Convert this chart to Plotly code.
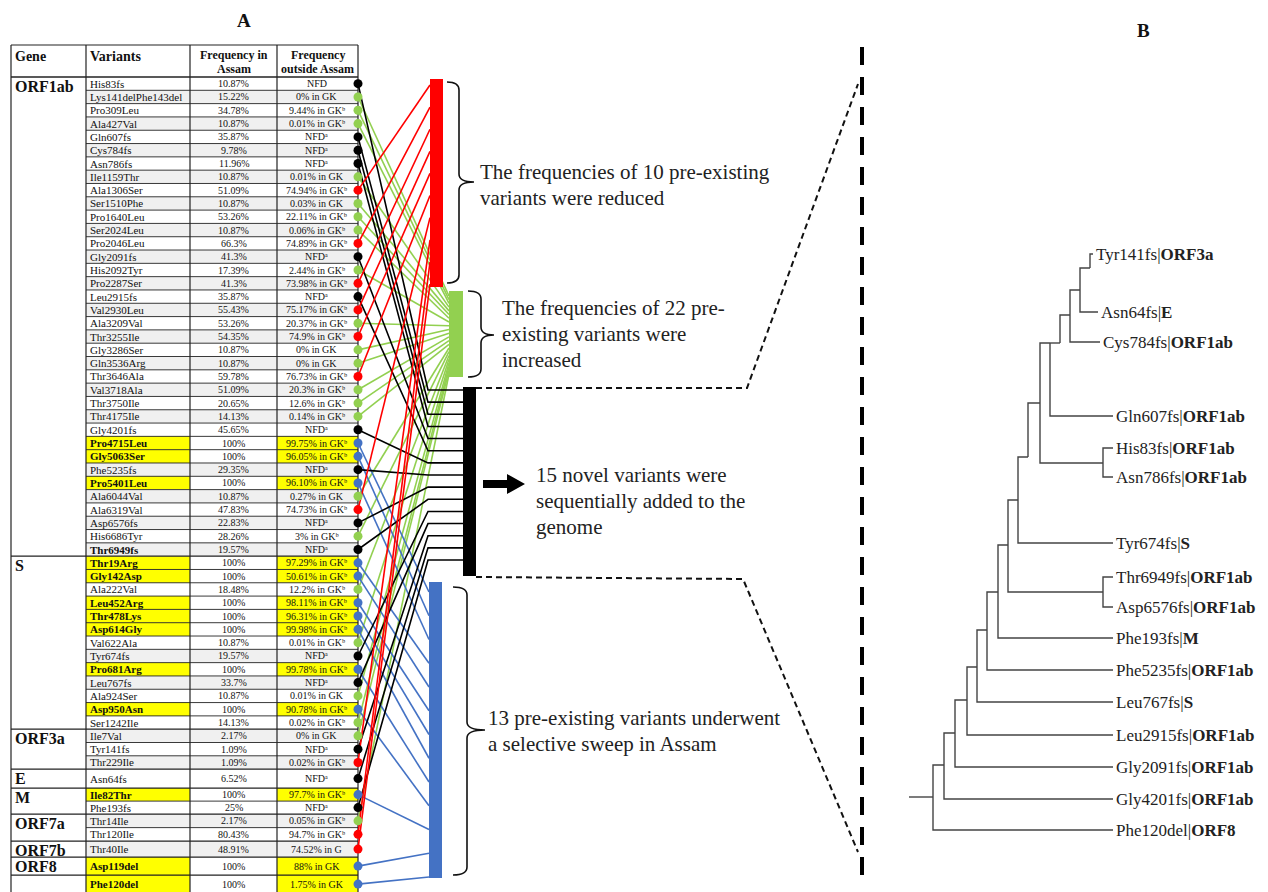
import plotly.graph_objects as go

FONT = "Liberation Serif"

# ---------------- DATA ----------------
genes = ["ORF1ab", "S", "ORF3a", "E", "M", "ORF7a", "ORF7b", "ORF8"]
gene_sizes = [36, 13, 3, 1, 2, 2, 1, 2]

variants = [
    "His83fs", "Lys141delPhe143del", "Pro309Leu", "Ala427Val", "Gln607fs", "Cys784fs", "Asn786fs",
    "Ile1159Thr", "Ala1306Ser", "Ser1510Phe", "Pro1640Leu", "Ser2024Leu", "Pro2046Leu", "Gly2091fs",
    "His2092Tyr", "Pro2287Ser", "Leu2915fs", "Val2930Leu", "Ala3209Val", "Thr3255Ile", "Gly3286Ser",
    "Gln3536Arg", "Thr3646Ala", "Val3718Ala", "Thr3750Ile", "Thr4175Ile", "Gly4201fs", "Pro4715Leu",
    "Gly5063Ser", "Phe5235fs", "Pro5401Leu", "Ala6044Val", "Ala6319Val", "Asp6576fs", "His6686Tyr",
    "Thr6949fs",
    "Thr19Arg", "Gly142Asp", "Ala222Val", "Leu452Arg", "Thr478Lys", "Asp614Gly", "Val622Ala",
    "Tyr674fs", "Pro681Arg", "Leu767fs", "Ala924Ser", "Asp950Asn", "Ser1242Ile",
    "Ile7Val", "Tyr141fs", "Thr229Ile",
    "Asn64fs",
    "Ile82Thr", "Phe193fs",
    "Thr14Ile", "Thr120Ile",
    "Thr40Ile",
    "Asp119del", "Phe120del",
]

freq_assam = [
    "10.87%", "15.22%", "34.78%", "10.87%", "35.87%", "9.78%", "11.96%", "10.87%", "51.09%", "10.87%",
    "53.26%", "10.87%", "66.3%", "41.3%", "17.39%", "41.3%", "35.87%", "55.43%", "53.26%", "54.35%",
    "10.87%", "10.87%", "59.78%", "51.09%", "20.65%", "14.13%", "45.65%", "100%", "100%", "29.35%",
    "100%", "10.87%", "47.83%", "22.83%", "28.26%", "19.57%",
    "100%", "100%", "18.48%", "100%", "100%", "100%", "10.87%", "19.57%", "100%", "33.7%", "10.87%",
    "100%", "14.13%",
    "2.17%", "1.09%", "1.09%",
    "6.52%",
    "100%", "25%",
    "2.17%", "80.43%",
    "48.91%",
    "100%", "100%",
]

freq_outside = [
    "NFD", "0% in GK", "9.44% in GK", "0.01% in GK", "NFD", "NFD", "NFD", "0.01% in GK", "74.94% in GK",
    "0.03% in GK", "22.11% in GK", "0.06% in GK", "74.89% in GK", "NFD", "2.44% in GK", "73.98% in GK",
    "NFD", "75.17% in GK", "20.37% in GK", "74.9% in GK", "0% in GK", "0% in GK", "76.73% in GK",
    "20.3% in GK", "12.6% in GK", "0.14% in GK", "NFD", "99.75% in GK", "96.05% in GK", "NFD",
    "96.10% in GK", "0.27% in GK", "74.73% in GK", "NFD", "3% in GK", "NFD",
    "97.29% in GK", "50.61% in GK", "12.2% in GK", "98.11% in GK", "96.31% in GK", "99.98% in GK",
    "0.01% in GK", "NFD", "99.78% in GK", "NFD", "0.01% in GK", "90.78% in GK", "0.02% in GK",
    "0% in GK", "NFD", "0.02% in GK",
    "NFD",
    "97.7% in GK", "NFD",
    "0.05% in GK", "94.7% in GK",
    "74.52% in G",
    "88% in GK", "1.75% in GK",
]

# superscript note marks (a / b) after the outside-Assam frequency
outside_mark = [
    "", "", "ᵇ", "ᵇ", "ᵃ", "ᵃ", "ᵃ", "", "ᵇ", "", "ᵇ", "ᵇ", "ᵇ", "ᵃ", "ᵇ", "ᵇ", "ᵃ", "ᵇ", "ᵇ", "ᵇ",
    "", "", "ᵇ", "ᵇ", "ᵇ", "ᵇ", "ᵃ", "ᵇ", "ᵇ", "ᵃ", "ᵇ", "", "ᵇ", "ᵃ", "ᵇ", "ᵃ",
    "ᵇ", "ᵇ", "ᵇ", "ᵇ", "ᵇ", "ᵇ", "ᵇ", "ᵃ", "ᵇ", "ᵃ", "", "ᵇ", "ᵇ",
    "", "ᵃ", "ᵇ",
    "ᵃ",
    "ᵇ", "ᵃ",
    "ᵇ", "ᵇ",
    "",
    "", "",
]

# K = novel frameshift (black), G = increased (green), R = reduced (red), B = selective sweep (blue)
category = list(
    "KGGGKKKGRGGGRKGRKRGRGGRGGGKBBKBGRKGK"
    "BBGBBBGKBKGBG"
    "GKR"
    "K"
    "BK"
    "GR"
    "R"
    "BB"
)
extra_bold = {"Thr6949fs"}

cat_color = {"K": "#000000", "G": "#92D050", "R": "#FF0000", "B": "#4472C4"}

callouts = [
    ["The frequencies of 10 pre-existing", "variants were reduced"],
    ["The frequencies of 22 pre-", "existing variants were", "increased"],
    ["15 novel variants were", "sequentially added to the", "genome"],
    ["13 pre-existing variants underwent", "a selective sweep in Assam"],
]

# dendrogram of the 15 novel variants (+ Phe120del)
leaf_names = ["Tyr141fs", "Asn64fs", "Cys784fs", "Gln607fs", "His83fs", "Asn786fs", "Tyr674fs",
              "Thr6949fs", "Asp6576fs", "Phe193fs", "Phe5235fs", "Leu767fs", "Leu2915fs",
              "Gly2091fs", "Gly4201fs", "Phe120del"]
leaf_genes = ["ORF3a", "E", "ORF1ab", "ORF1ab", "ORF1ab", "ORF1ab", "S", "ORF1ab", "ORF1ab", "M",
              "ORF1ab", "S", "ORF1ab", "ORF1ab", "ORF1ab", "ORF8"]
leaf_y = [254, 312, 342, 416, 448, 477, 543, 577, 607, 638, 670, 702, 735, 767, 799, 830]
leaf_x = [1093, 1098, 1100, 1113, 1113, 1113, 1113, 1113, 1113, 1113, 1113, 1113, 1113, 1113, 1113, 1113]

node_pos = {
    "stub": (909, 797), "root": (933, 797), "P10": (944, 765), "P9": (955, 733), "P8": (967, 700),
    "P7": (977, 667), "P6": (987, 630), "P5": (998, 592), "P4": (1008, 545), "Nthr": (1103, 592),
    "P3": (1018, 500), "P2": (1028, 457), "P": (1040, 403), "Nhis": (1103, 463), "Nd": (1050, 343),
    "Nc": (1060, 343), "Nb": (1070, 315), "Na": (1080, 290), "Nt": (1090, 268),
}
node_children = {
    "stub": ["root"], "root": ["P10", "Phe120del"], "P10": ["P9", "Gly4201fs"],
    "P9": ["P8", "Gly2091fs"], "P8": ["P7", "Leu2915fs"], "P7": ["P6", "Leu767fs"],
    "P6": ["P5", "Phe5235fs"], "P5": ["P4", "Phe193fs"], "P4": ["P3", "Nthr"],
    "Nthr": ["Thr6949fs", "Asp6576fs"], "P3": ["P2", "Tyr674fs"], "P2": ["P"],
    "P": ["Nd", "Nhis"], "Nhis": ["His83fs", "Asn786fs"], "Nd": ["Nc", "Gln607fs"],
    "Nc": ["Nb"], "Nb": ["Na", "Cys784fs"], "Na": ["Nt", "Asn64fs"], "Nt": ["Tyr141fs"],
}

# ---------------- LAYOUT CONSTANTS ----------------
W, H = 1268, 892
OFF = 8  # default page margin of the browser body
COL_X = [11, 86, 190, 277, 358]
HEAD_TOP, HEAD_BOT = 45, 77
GROUP_ROW_H = [13.31, 13.31, 13.31, 19, 13, 13.5, 16, 18]
DOT_X = 358

bars = {  # x0, x1, y0, y1
    "R": (430, 443, 79, 287),
    "G": (449, 463, 291, 377),
    "K": (463, 476, 387, 576),
    "B": (429, 442, 582, 878),
}
line_end = {  # x of line end, y start, y end for spreading
    "R": (430, 85, 284),
    "G": (449, 296, 374),
    "K": (463, 390, 560),
    "B": (429, 592, 877),
}

shapes = []
annotations = []

# rows geometry
row_top, row_bot, row_group = [], [], []
y = HEAD_BOT
for gi, n in enumerate(gene_sizes):
    for _ in range(n):
        row_top.append(y)
        y += GROUP_ROW_H[gi]
        row_bot.append(y)
        row_group.append(gi)
row_mid = [(a + b) / 2 for a, b in zip(row_top, row_bot)]
table_bot = row_bot[-1]

# cell backgrounds
for i in range(len(variants)):
    hl = category[i] == "B"
    alt = "#F0F0F0" if i % 2 == 1 else "#FFFFFF"
    fills = ["#FFFF00" if hl else alt, "#FFFFFF" if hl else alt, "#FFFF00" if hl else alt]
    for c in range(3):
        if fills[c] != "#FFFFFF":
            shapes.append(dict(type="rect", xref="x", yref="y", x0=COL_X[c + 1], x1=COL_X[c + 2],
                               y0=row_top[i], y1=row_bot[i], fillcolor=fills[c], line=dict(width=0),
                               layer="below"))

# grid lines
LC = "#222222"
shapes.append(dict(type="line", x0=COL_X[0], x1=COL_X[-1], y0=HEAD_TOP, y1=HEAD_TOP,
                   line=dict(color=LC, width=1.2), layer="below"))
shapes.append(dict(type="line", x0=COL_X[0], x1=COL_X[-1], y0=HEAD_BOT, y1=HEAD_BOT,
                   line=dict(color=LC, width=1.6), layer="below"))
group_end_rows = []
acc = 0
for n in gene_sizes:
    acc += n
    group_end_rows.append(acc - 1)
for i in range(len(variants)):
    full = i in group_end_rows or genes[row_group[i]] == "ORF8"
    shapes.append(dict(type="line", x0=COL_X[0] if full else COL_X[1], x1=COL_X[-1],
                       y0=row_bot[i], y1=row_bot[i],
                       line=dict(color=LC, width=1.2 if full else 0.9), layer="below"))
for cx in COL_X:
    shapes.append(dict(type="line", x0=cx, x1=cx, y0=HEAD_TOP, y1=table_bot,
                       line=dict(color=LC, width=1.2), layer="below"))

# header text
hdr = dict(xref="x", yref="y", showarrow=False)
annotations.append(dict(hdr, x=13, y=56, text="<b>Gene</b>", xanchor="left", yanchor="middle",
                        font=dict(family=FONT, size=14, color="#111")))
annotations.append(dict(hdr, x=88, y=56, text="<b>Variants</b>", xanchor="left", yanchor="middle",
                        font=dict(family=FONT, size=14, color="#111")))
for cx, lines in [((COL_X[2] + COL_X[3]) / 2, ["Frequency in", "Assam"]),
                  ((COL_X[3] + COL_X[4]) / 2, ["Frequency", "outside Assam"])]:
    for k, t in enumerate(lines):
        annotations.append(dict(hdr, x=cx, y=55 + 14 * k, text="<b>" + t + "</b>", xanchor="center",
                                yanchor="middle", font=dict(family=FONT, size=12, color="#111")))

# gene labels
acc = 0
for g, n in zip(genes, gene_sizes):
    annotations.append(dict(hdr, x=13, y=row_top[acc] + 9, text="<b>" + g + "</b>", xanchor="left",
                            yanchor="middle", font=dict(family=FONT, size=16, color="#111")))
    acc += n

# row text
for i, v in enumerate(variants):
    bold = category[i] == "B" or v in extra_bold
    annotations.append(dict(hdr, x=88, y=row_mid[i], text=("<b>%s</b>" % v) if bold else v,
                            xanchor="left", yanchor="middle",
                            font=dict(family=FONT, size=11, color="#111")))
    annotations.append(dict(hdr, x=(COL_X[2] + COL_X[3]) / 2, y=row_mid[i], text=freq_assam[i],
                            xanchor="center", yanchor="middle",
                            font=dict(family=FONT, size=10, color="#111")))
    annotations.append(dict(hdr, x=(COL_X[3] + COL_X[4]) / 2 - 1, y=row_mid[i],
                            text=freq_outside[i] + outside_mark[i],
                            xanchor="center", yanchor="middle",
                            font=dict(family=FONT, size=10, color="#111")))

# connection lines
traces = []
for cat in ["G", "B", "K", "R"]:
    idx = [i for i, c in enumerate(category) if c == cat]
    xe, ys, ye2 = line_end[cat]
    n = len(idx)
    xs, yy = [], []
    for k, i in enumerate(idx):
        ye = ys + (ye2 - ys) * k / (n - 1)
        if cat == "K":
            xs += [DOT_X, 428, xe, None]
            yy += [row_mid[i], ye, ye, None]
        else:
            xs += [DOT_X, xe, None]
            yy += [row_mid[i], ye, None]
    traces.append(go.Scatter(x=xs, y=yy, mode="lines", line=dict(color=cat_color[cat], width=1.6),
                             hoverinfo="skip", showlegend=False))

traces.append(go.Scatter(x=[DOT_X] * len(variants), y=row_mid, mode="markers",
                         marker=dict(size=9, color=[cat_color[c] for c in category], line=dict(width=0)),
                         hoverinfo="skip", showlegend=False))

# bars
for cat, (x0, x1, y0, y1) in bars.items():
    shapes.append(dict(type="rect", x0=x0, x1=x1, y0=y0, y1=y1, fillcolor=cat_color[cat],
                       line=dict(width=0), layer="above"))


def brace(x0, x1, xt, y0, y1, ym, r=8):
    return ("M %f,%f Q %f,%f %f,%f L %f,%f Q %f,%f %f,%f Q %f,%f %f,%f L %f,%f Q %f,%f %f,%f" %
            (x0, y0, x1, y0, x1, y0 + r, x1, ym - r, x1, ym, xt, ym, x1, ym, x1, ym + r,
             x1, y1 - r, x1, y1, x0, y1))


for (x0, x1, xt, y0, y1, ym) in [(447, 459, 474, 82, 283, 182), (468, 481, 494, 291, 377, 335),
                                 (453, 467, 485, 587, 875, 730)]:
    shapes.append(dict(type="path", path=brace(x0, x1, xt, y0, y1, ym), line=dict(color="#111", width=1.6)))

# arrow
shapes.append(dict(type="path", path="M 483,480 L 507,480 L 507,474 L 525,484 L 507,494 L 507,488 L 483,488 Z",
                   fillcolor="#000", line=dict(width=0)))

# dashed connectors
shapes.append(dict(type="path", path="M 476,388 L 747,388 L 858,84",
                   line=dict(color="#111", width=2, dash="6px,4px")))
shapes.append(dict(type="path", path="M 476,577 L 743,579 L 858,852",
                   line=dict(color="#111", width=2, dash="6px,4px")))
shapes.append(dict(type="line", x0=862, x1=862, y0=47, y1=885,
                   line=dict(color="#000", width=4, dash="18px,12px")))

# callout texts
callout_pos = [(478, 172), (500, 308), (534, 475), (486, 718)]
for lines, (cx, cy) in zip(callouts, callout_pos):
    for k, t in enumerate(lines):
        annotations.append(dict(hdr, x=cx, y=cy + 26 * k, text=t, xanchor="left", yanchor="middle",
                                font=dict(family=FONT, size=21, color="#222")))

# panel letters
annotations.append(dict(hdr, x=244, y=20, text="<b>A</b>", xanchor="center", yanchor="middle",
                        font=dict(family=FONT, size=19, color="#111")))
annotations.append(dict(hdr, x=1143, y=30, text="<b>B</b>", xanchor="center", yanchor="middle",
                        font=dict(family=FONT, size=19, color="#111")))

# dendrogram
pos = dict(node_pos)
for nm, lx, ly in zip(leaf_names, leaf_x, leaf_y):
    pos[nm] = (lx, ly)
tx, ty = [], []
for parent, kids in node_children.items():
    px, py = pos[parent]
    for kid in kids:
        cx, cy = pos[kid]
        tx += [px, px, cx, None]
        ty += [py, cy, cy, None]
traces.append(go.Scatter(x=tx, y=ty, mode="lines", line=dict(color="#444", width=1.4),
                         hoverinfo="skip", showlegend=False))
for nm, g, lx, ly in zip(leaf_names, leaf_genes, leaf_x, leaf_y):
    annotations.append(dict(hdr, x=lx + 1, y=ly, text="%s|<b>%s</b>" % (nm, g), xanchor="left",
                            yanchor="middle", font=dict(family=FONT, size=17, color="#222")))

fig = go.Figure(traces)
fig.update_layout(
    width=W - OFF, height=H - OFF, margin=dict(l=0, r=0, t=0, b=0, pad=0),
    paper_bgcolor="white", plot_bgcolor="white",
    xaxis=dict(range=[OFF, W], visible=False, fixedrange=True),
    yaxis=dict(range=[H, OFF], visible=False, fixedrange=True),
    shapes=shapes, annotations=annotations, showlegend=False,
)
fig.write_html("out.html")
